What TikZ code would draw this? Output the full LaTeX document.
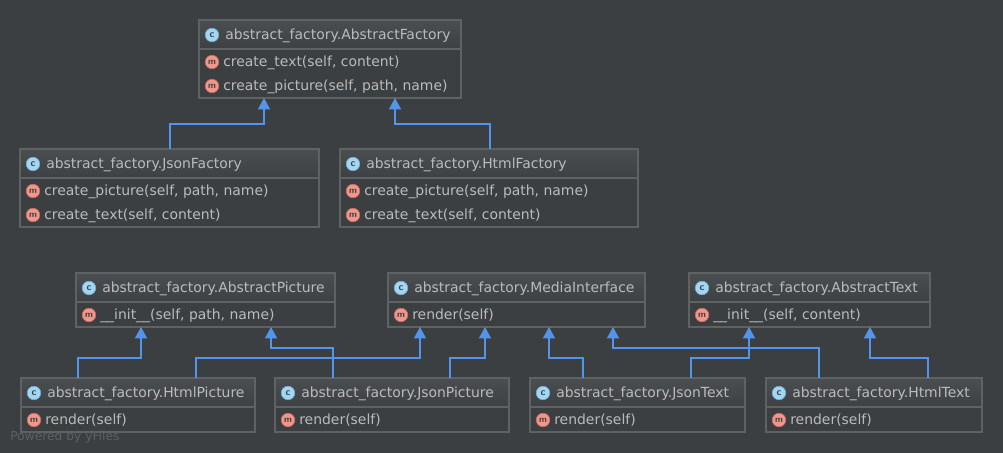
\documentclass[tikz,border=0pt]{standalone}
\usepackage{fontspec}
\setmainfont{DejaVu Sans}
\usetikzlibrary{arrows.meta}
\definecolor{bg}{HTML}{3C3F41}
\definecolor{boxfill}{HTML}{3C3F41}
\definecolor{border}{HTML}{5F6263}
\definecolor{hdtop}{HTML}{4B4E50}
\definecolor{hdbot}{HTML}{3E4143}
\definecolor{txt}{HTML}{BBBBBB}
\definecolor{arr}{HTML}{5394EC}
\definecolor{cfill}{HTML}{A3D6F2}
\definecolor{cline}{HTML}{6FA8CC}
\definecolor{mfill}{HTML}{F1968A}
\definecolor{mline}{HTML}{C96A60}
\definecolor{yf}{HTML}{5E6163}
\tikzset{
  boxbg/.style={fill=boxfill,draw=none,inner sep=0pt,outer sep=0pt,anchor=north west,rectangle},
  frame/.style={draw=border,line width=0.9pt},
  sep/.style={draw=border,line width=0.9pt},
  lbl/.style={text=txt,font=\fontsize{10.45pt}{12pt}\selectfont,inner sep=0pt,anchor=west},
  cicon/.style={circle,fill=cfill,draw=cline,line width=0.4pt,inner sep=0pt,minimum size=10.2pt,text=bg,font=\sffamily\bfseries\fontsize{7.5pt}{8pt}\selectfont},
  micon/.style={circle,fill=mfill,draw=mline,line width=0.4pt,inner sep=0pt,minimum size=10.2pt,text=bg,font=\sffamily\bfseries\fontsize{6.8pt}{8pt}\selectfont},
  inh/.style={draw=arr,line width=0.9pt,-{Triangle[width=9pt,length=8.5pt]}},
}
\newcommand{\ucls}[6]{%
  \node[boxbg,minimum width={(#4-#2)*0.75pt},minimum height={(#5-#3)*0.75pt}] (#1) at (#2,#3) {};
  \shade[top color=hdtop,bottom color=hdbot] (#2,#3) rectangle (#4,#3+29);
  \draw[sep] (#2,#3+29) -- (#4,#3+29);
  \draw[frame] (#1.north west) rectangle (#1.south east);
  \node[cicon] (#1-ic) at (#2+13,#3+15) {c};
  \node[lbl] (#1-t) at (#2+26,#3+15.5) {#6};
}
\newcommand{\urow}[4]{%
  \node[micon] (#3-ic) at (#1+13,#2) {m};
  \node[lbl] (#3) at (#1+24,#2+0.5) {#4};
}
\begin{document}
\begin{tikzpicture}[x=0.75pt,y=-0.75pt]
\fill[bg] (0,0) rectangle (1003,453);
\useasboundingbox (0,0) rectangle (1003,453);
% top
\ucls{af}{199}{20}{461}{98}{abstract\_factory.AbstractFactory}
\urow{199}{62}{af-r1}{create\_text(self, content)}
\urow{199}{86}{af-r2}{create\_picture(self, path, name)}
\ucls{jf}{20}{149}{319}{227}{abstract\_factory.JsonFactory}
\urow{20}{191}{jf-r1}{create\_picture(self, path, name)}
\urow{20}{215}{jf-r2}{create\_text(self, content)}
\ucls{hf}{340}{149}{638}{227}{abstract\_factory.HtmlFactory}
\urow{340}{191}{hf-r1}{create\_picture(self, path, name)}
\urow{340}{215}{hf-r2}{create\_text(self, content)}
% middle
\ucls{ap}{76}{273}{335}{327}{abstract\_factory.AbstractPicture}
\urow{76}{315}{ap-r1}{\_\_init\_\_(self, path, name)}
\ucls{mi}{388}{273}{645}{327}{abstract\_factory.MediaInterface}
\urow{388}{315}{mi-r1}{render(self)}
\ucls{at}{689}{273}{930}{327}{abstract\_factory.AbstractText}
\urow{689}{315}{at-r1}{\_\_init\_\_(self, content)}
% bottom
\ucls{hp}{21}{378}{255}{432}{abstract\_factory.HtmlPicture}
\urow{21}{420}{hp-r1}{render(self)}
\ucls{jp}{275}{378}{509}{432}{abstract\_factory.JsonPicture}
\urow{275}{420}{jp-r1}{render(self)}
\ucls{jt}{530}{378}{745}{432}{abstract\_factory.JsonText}
\urow{530}{420}{jt-r1}{render(self)}
\ucls{ht}{766}{378}{982}{432}{abstract\_factory.HtmlText}
\urow{766}{420}{ht-r1}{render(self)}
% connectors
\draw[inh] ([xshift=150*0.75pt]jf.north west) -- ++(0,-25) -| ([xshift=65*0.75pt]af.south west);
\draw[inh] ([xshift=150*0.75pt]hf.north west) -- ++(0,-25) -| ([xshift=196*0.75pt]af.south west);
\draw[inh] ([xshift=57*0.75pt]hp.north west) -- ++(0,-20) -| ([xshift=65*0.75pt]ap.south west);
\draw[inh] ([xshift=58*0.75pt]jp.north west) -- ++(0,-30) -| ([xshift=195*0.75pt]ap.south west);
\draw[inh] ([xshift=175*0.75pt]hp.north west) -- ++(0,-20) -| ([xshift=32*0.75pt]mi.south west);
\draw[inh] ([xshift=175*0.75pt]jp.north west) -- ++(0,-20) -| ([xshift=97*0.75pt]mi.south west);
\draw[inh] ([xshift=53*0.75pt]jt.north west) -- ++(0,-20) -| ([xshift=161*0.75pt]mi.south west);
\draw[inh] ([xshift=53*0.75pt]ht.north west) -- ++(0,-30) -| ([xshift=225*0.75pt]mi.south west);
\draw[inh] ([xshift=161*0.75pt]jt.north west) -- ++(0,-20) -| ([xshift=60*0.75pt]at.south west);
\draw[inh] ([xshift=162*0.75pt]ht.north west) -- ++(0,-20) -| ([xshift=181*0.75pt]at.south west);
\node[text=yf,font=\fontsize{9.2pt}{10pt}\selectfont,inner sep=0pt,anchor=west] (yf) at (10,437) {Powered by yFiles};
\end{tikzpicture}
\end{document}
